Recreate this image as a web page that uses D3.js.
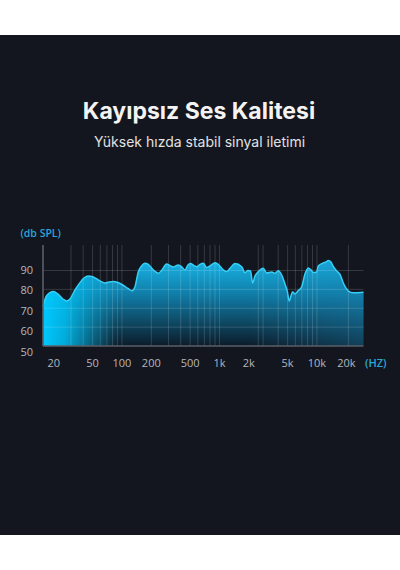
<!DOCTYPE html>
<html>
<head>
<meta charset="utf-8">
<script src="https://cdn.jsdelivr.net/npm/d3@7"></script>
<style>
  html, body { margin: 0; padding: 0; background: #ffffff; }
  svg { display: block; }
</style>
</head>
<body>
<svg id="chart" width="400" height="570"></svg>
<script>
// ---- data ----
const titleText = "Kayıpsız Ses Kalitesi";
const subtitleText = "Yüksek hızda stabil sinyal iletimi";
const yUnitLabel = "(db SPL)";
const xUnitLabel = "(HZ)";

const freqs = [15.5, 16.6, 18.3, 19.7, 22.1, 24.8, 27.1, 29.3, 33.0, 36.2, 40.8, 45.1, 49.2, 54.1, 60.9, 66.9, 73.6, 81.4, 91.0, 102,
  115, 127, 136, 147, 159, 172, 185, 203, 218, 236, 257, 287, 311, 336, 378, 408, 443, 475, 504, 548,
  584, 631, 682, 739, 799, 899, 988, 1094, 1185, 1281, 1442, 1689, 1826, 1961, 2080, 2190, 2313, 2483, 2813, 3049,
  3431, 3709, 4010, 4345, 4697, 4959, 5199, 5412, 5634, 5948, 6431, 6969, 7532, 8143, 8682, 9165, 9929, 10310, 11600, 12370,
  13060, 13920, 14590, 15930, 17220, 18610, 19840, 20940, 23570, 30000];
const splValues = [70.8, 76.0, 78.3, 78.9, 77.5, 74.9, 73.8, 74.9, 79.7, 82.8, 86.0, 87.1, 86.8, 85.8, 84.2, 83.4, 83.9, 84.2, 83.6, 82.3,
  80.5, 79.3, 81.4, 89.2, 92.4, 93.8, 93.4, 91.1, 89.5, 88.5, 90.3, 93.4, 92.6, 91.9, 92.9, 92.1, 90.3, 92.9, 93.7, 92.6,
  92.0, 93.2, 93.8, 91.6, 92.4, 94.1, 92.9, 90.3, 89.4, 91.1, 93.7, 92.0, 88.8, 90.0, 89.7, 83.4, 87.1, 89.2, 91.2, 88.7,
  89.2, 88.5, 89.9, 87.6, 82.8, 79.1, 73.8, 76.5, 78.8, 77.5, 79.4, 81.4, 88.1, 91.3, 90.3, 88.9, 89.2, 92.4, 94.0, 94.5,
  95.3, 94.5, 92.4, 89.7, 87.9, 83.4, 80.7, 79.1, 78.2, 78.5];

const xTickValues = [20, 50, 100, 200, 500, 1000, 2000, 5000, 10000, 20000];
const xTickLabels = ["20", "50", "100", "200", "500", "1k", "2k", "5k", "10k", "20k"];
const xGridValues = [30, 40, 50, 60, 70, 80, 90, 100, 200, 300, 400, 500, 600, 700, 800, 900, 1000,
  2500, 2800, 4000, 5000, 6000, 7000, 8000, 9000, 10000, 21000];
const yTickValues = [50, 60, 70, 80, 90];
const yTickLabels = ["50", "60", "70", "80", "90"];
const yGridValues = [60, 70, 80, 90];

// ---- layout ----
const W = 400, H = 570;
const svg = d3.select("#chart");

svg.append("rect").attr("x", 0).attr("y", 35).attr("width", W).attr("height", 500).attr("fill", "#13161e");

const plot = { left: 43, right: 363.5, top: 245, bottom: 346 };

const x = d3.scaleLog().domain([15.5, 30000]).range([plot.left, plot.right]);
const y = d3.scaleLinear().domain([50, 103.5]).range([plot.bottom, plot.top]);
// tick labels sit slightly spread relative to the gridlines in the reference
const yLab = d3.scaleLinear().domain([50, 90]).range([y(50) + 5.7, y(90) - 0.5]);

const data = freqs.map((f, i) => ({ f, v: splValues[i] }));

// titles
svg.append("text").attr("x", 199).attr("y", 118.5).attr("text-anchor", "middle")
  .attr("font-family", "Inter, 'Open Sans', sans-serif").attr("font-weight", 700)
  .attr("font-size", 23).attr("fill", "#f3f3f3").text(titleText);
svg.append("text").attr("x", 199.5).attr("y", 146.5).attr("text-anchor", "middle")
  .attr("font-family", "Inter, 'Open Sans', sans-serif").attr("font-weight", 400)
  .attr("font-size", 14).attr("fill", "#e2e2e2").text(subtitleText);

// gradients
const defs = svg.append("defs");
const gV = defs.append("linearGradient").attr("id", "gV").attr("gradientUnits", "userSpaceOnUse")
  .attr("x1", 0).attr("x2", 0).attr("y1", y(96)).attr("y2", y(50));
gV.append("stop").attr("offset", "0%").attr("stop-color", "#18b6e8");
gV.append("stop").attr("offset", "40%").attr("stop-color", "#107ea9");
gV.append("stop").attr("offset", "100%").attr("stop-color", "#0c1c2a");

const gH = defs.append("linearGradient").attr("id", "gH").attr("gradientUnits", "userSpaceOnUse")
  .attr("x1", x(15.5)).attr("x2", x(90)).attr("y1", 0).attr("y2", 0);
gH.append("stop").attr("offset", "0%").attr("stop-color", "#00c8ff").attr("stop-opacity", 1);
gH.append("stop").attr("offset", "30%").attr("stop-color", "#00c2f5").attr("stop-opacity", 0.85);
gH.append("stop").attr("offset", "100%").attr("stop-color", "#00b0e0").attr("stop-opacity", 0);

const gR = defs.append("linearGradient").attr("id", "gR").attr("gradientUnits", "userSpaceOnUse")
  .attr("x1", x(2000)).attr("x2", x(30000)).attr("y1", 0).attr("y2", 0);
gR.append("stop").attr("offset", "0%").attr("stop-color", "#1a7fae").attr("stop-opacity", 0);
gR.append("stop").attr("offset", "100%").attr("stop-color", "#1a7fae").attr("stop-opacity", 0.35);

const area = d3.area().x(d => x(d.f)).y0(y(50)).y1(d => y(d.v)).curve(d3.curveMonotoneX);
const line = d3.line().x(d => x(d.f)).y(d => y(d.v)).curve(d3.curveMonotoneX);

svg.append("path").datum(data).attr("d", area).attr("fill", "url(#gV)");
svg.append("path").datum(data).attr("d", area).attr("fill", "url(#gR)");
svg.append("path").datum(data).attr("d", area).attr("fill", "url(#gH)");

// gridlines (over fill, translucent)
const grid = svg.append("g").attr("stroke", "#ffffff").attr("stroke-opacity", 0.15).attr("stroke-width", 1);
grid.selectAll("line.v").data(xGridValues).join("line").attr("class", "v")
  .attr("x1", d => x(d)).attr("x2", d => x(d)).attr("y1", plot.top).attr("y2", plot.bottom);
grid.selectAll("line.h").data(yGridValues).join("line").attr("class", "h")
  .attr("x1", plot.left).attr("x2", plot.right).attr("y1", d => y(d)).attr("y2", d => y(d));

// curve stroke
svg.append("path").datum(data).attr("d", line).attr("fill", "none")
  .attr("stroke", "#35cff6").attr("stroke-width", 1.5);

// axes lines
svg.append("line").attr("x1", plot.left).attr("x2", plot.left).attr("y1", plot.top).attr("y2", plot.bottom)
  .attr("stroke", "#5b5f68").attr("stroke-width", 1.6);
svg.append("line").attr("x1", plot.left).attr("x2", plot.right).attr("y1", plot.bottom).attr("y2", plot.bottom)
  .attr("stroke", "#5b5f68").attr("stroke-width", 1.6);

// y tick labels
svg.append("g").selectAll("text").data(yTickValues).join("text")
  .attr("x", 33).attr("y", d => yLab(d)).attr("dy", "0.35em").attr("text-anchor", "end")
  .attr("font-family", "'Open Sans', 'Noto Sans', sans-serif").attr("font-size", 11)
  .attr("fill", "#b3b7bf").text((d, i) => yTickLabels[i]);

// x tick labels
svg.append("g").selectAll("text").data(xTickValues).join("text")
  .attr("x", d => x(d)).attr("y", 366.5).attr("text-anchor", "middle")
  .attr("font-family", "'Open Sans', 'Noto Sans', sans-serif").attr("font-size", 11)
  .attr("fill", "#b3b7bf").text((d, i) => xTickLabels[i]);

// unit labels
svg.append("text").attr("x", 20.5).attr("y", 237).attr("font-family", "'Open Sans', 'Noto Sans', sans-serif")
  .attr("font-size", 10.5).attr("font-weight", 600).attr("fill", "#2aa6d8").text(yUnitLabel);
svg.append("text").attr("x", 365).attr("y", 366.5).attr("font-family", "'Open Sans', 'Noto Sans', sans-serif")
  .attr("font-size", 11).attr("font-weight", 600).attr("fill", "#2aa6d8").text(xUnitLabel);
</script>
</body>
</html>
